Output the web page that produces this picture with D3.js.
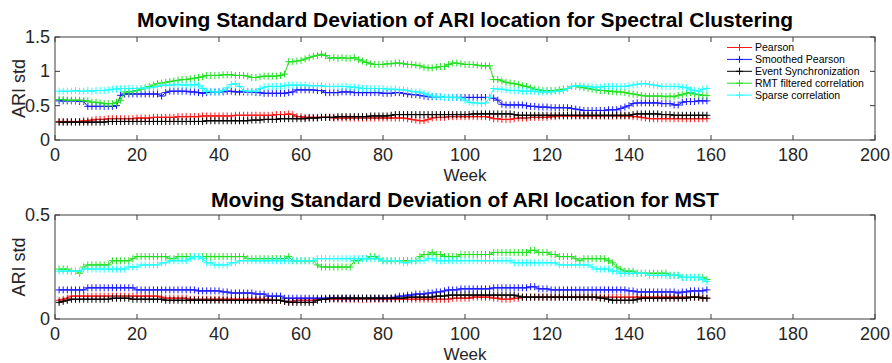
<!DOCTYPE html>
<html>
<head>
<meta charset="utf-8">
<script src="https://cdn.jsdelivr.net/npm/d3@7"></script>
<style>
html,body{margin:0;padding:0;background:#fff;}
svg{display:block;font-family:"Liberation Sans",Arial,Helvetica,sans-serif;}
</style>
</head>
<body>
<svg id="chart" width="892" height="363"></svg>
<script>
// ---------- data ----------
const weeks = d3.range(1, 160); // weeks 1..159
const seriesNames = ["Pearson", "Smoothed Pearson", "Event Synchronization", "RMT filtered correlation", "Sparse correlation"];
const seriesColors = ["#ff1a1a", "#1a1aff", "#000000", "#22e022", "#22ffff"];
const xTicks = [0, 20, 40, 60, 80, 100, 120, 140, 160, 180, 200];
const topYTicks = [0, 0.5, 1, 1.5];
const bottomYTicks = [0, 0.5];
const topTitle = "Moving Standard Deviation of ARI location for Spectral Clustering";
const bottomTitle = "Moving Standard Deviation of ARI location for MST";

// Spectral clustering panel
const scPearson = [
0.27,0.27,0.27,0.27,0.27,0.27,0.28,0.28,0.29,0.30,
0.30,0.30,0.31,0.31,0.31,0.31,0.31,0.31,0.31,0.32,
0.32,0.32,0.32,0.33,0.33,0.33,0.33,0.33,0.33,0.34,
0.34,0.34,0.34,0.34,0.34,0.35,0.35,0.35,0.35,0.35,
0.35,0.35,0.35,0.36,0.36,0.36,0.36,0.36,0.36,0.36,
0.36,0.36,0.36,0.37,0.37,0.37,0.38,0.37,0.34,0.34,
0.33,0.33,0.33,0.33,0.33,0.33,0.33,0.32,0.32,0.32,
0.32,0.32,0.32,0.32,0.32,0.32,0.32,0.32,0.32,0.32,
0.32,0.32,0.32,0.32,0.32,0.31,0.30,0.29,0.28,0.28,
0.30,0.32,0.33,0.33,0.33,0.34,0.34,0.34,0.34,0.34,
0.34,0.34,0.34,0.34,0.34,0.33,0.31,0.31,0.30,0.30,
0.30,0.31,0.32,0.32,0.32,0.33,0.33,0.33,0.33,0.33,
0.34,0.34,0.35,0.35,0.35,0.35,0.35,0.35,0.35,0.35,
0.35,0.35,0.35,0.35,0.35,0.35,0.35,0.35,0.35,0.35,
0.34,0.34,0.33,0.32,0.31,0.31,0.31,0.31,0.31,0.31,
0.31,0.31,0.31,0.31,0.31,0.31,0.31,0.31,0.31];
const scSmoothed = [
0.57,0.57,0.57,0.57,0.57,0.56,0.56,0.49,0.49,0.49,
0.49,0.49,0.49,0.49,0.50,0.65,0.67,0.67,0.67,0.67,
0.67,0.67,0.67,0.67,0.67,0.64,0.69,0.71,0.71,0.71,
0.71,0.71,0.70,0.70,0.69,0.68,0.69,0.70,0.70,0.70,
0.70,0.71,0.71,0.70,0.70,0.70,0.70,0.70,0.69,0.69,
0.68,0.68,0.68,0.68,0.68,0.68,0.69,0.70,0.73,0.73,
0.73,0.73,0.73,0.72,0.72,0.69,0.69,0.69,0.69,0.70,
0.70,0.70,0.69,0.69,0.69,0.69,0.69,0.69,0.69,0.68,
0.68,0.68,0.69,0.69,0.68,0.67,0.66,0.66,0.65,0.64,
0.63,0.63,0.63,0.63,0.62,0.62,0.62,0.62,0.62,0.62,
0.62,0.62,0.62,0.62,0.62,0.62,0.61,0.58,0.52,0.51,
0.51,0.51,0.51,0.51,0.50,0.49,0.49,0.48,0.48,0.48,
0.47,0.47,0.47,0.47,0.47,0.46,0.45,0.44,0.43,0.43,
0.43,0.43,0.43,0.43,0.44,0.44,0.44,0.46,0.48,0.50,
0.53,0.54,0.54,0.54,0.54,0.54,0.54,0.53,0.53,0.53,
0.51,0.51,0.55,0.56,0.56,0.56,0.57,0.57,0.57];
const scEvent = [
0.26,0.26,0.26,0.26,0.26,0.26,0.26,0.26,0.26,0.26,
0.26,0.26,0.27,0.27,0.27,0.27,0.27,0.27,0.27,0.27,
0.27,0.27,0.27,0.27,0.27,0.27,0.27,0.27,0.27,0.27,
0.27,0.27,0.27,0.27,0.27,0.27,0.28,0.28,0.28,0.28,
0.28,0.28,0.28,0.28,0.28,0.28,0.28,0.29,0.29,0.29,
0.30,0.30,0.30,0.30,0.31,0.31,0.31,0.31,0.31,0.31,
0.31,0.32,0.32,0.32,0.33,0.33,0.33,0.33,0.34,0.34,
0.34,0.34,0.34,0.34,0.34,0.34,0.35,0.35,0.35,0.35,
0.35,0.36,0.37,0.37,0.37,0.37,0.37,0.37,0.37,0.37,
0.37,0.37,0.37,0.37,0.37,0.37,0.37,0.37,0.37,0.37,
0.37,0.38,0.38,0.38,0.38,0.38,0.38,0.38,0.38,0.38,
0.38,0.37,0.36,0.36,0.36,0.36,0.36,0.36,0.36,0.36,
0.36,0.36,0.36,0.36,0.36,0.36,0.36,0.36,0.36,0.36,
0.36,0.36,0.36,0.36,0.36,0.36,0.36,0.36,0.36,0.36,
0.37,0.38,0.38,0.38,0.38,0.38,0.38,0.37,0.37,0.37,
0.36,0.36,0.36,0.36,0.36,0.36,0.36,0.36,0.36];
const scRMT = [
0.59,0.59,0.58,0.58,0.58,0.58,0.57,0.57,0.55,0.55,
0.54,0.53,0.53,0.53,0.55,0.58,0.70,0.70,0.71,0.72,
0.74,0.76,0.78,0.80,0.82,0.83,0.84,0.85,0.86,0.87,
0.88,0.88,0.89,0.90,0.91,0.92,0.94,0.94,0.94,0.94,
0.95,0.95,0.95,0.94,0.94,0.94,0.93,0.91,0.91,0.92,
0.93,0.93,0.93,0.93,0.94,0.96,1.14,1.14,1.15,1.16,
1.18,1.20,1.22,1.23,1.25,1.23,1.19,1.20,1.19,1.20,
1.19,1.19,1.20,1.17,1.15,1.13,1.11,1.10,1.10,1.10,
1.11,1.11,1.12,1.12,1.11,1.10,1.10,1.09,1.08,1.06,
1.05,1.05,1.06,1.07,1.07,1.10,1.12,1.12,1.11,1.10,
1.10,1.10,1.09,1.08,1.08,1.08,0.88,0.88,0.86,0.84,
0.83,0.82,0.81,0.79,0.78,0.76,0.74,0.73,0.72,0.72,
0.72,0.72,0.73,0.74,0.75,0.78,0.78,0.77,0.76,0.75,
0.74,0.73,0.72,0.72,0.71,0.71,0.70,0.70,0.69,0.68,
0.67,0.66,0.65,0.64,0.64,0.64,0.64,0.64,0.63,0.64,
0.63,0.65,0.66,0.68,0.69,0.67,0.66,0.65,0.65];
const scSparse = [
0.71,0.71,0.71,0.71,0.72,0.71,0.71,0.72,0.71,0.72,
0.72,0.72,0.73,0.74,0.74,0.75,0.75,0.75,0.75,0.75,
0.75,0.76,0.76,0.77,0.78,0.80,0.80,0.80,0.80,0.81,
0.80,0.80,0.80,0.81,0.80,0.75,0.71,0.71,0.70,0.70,
0.72,0.76,0.81,0.82,0.78,0.72,0.71,0.71,0.71,0.75,
0.77,0.78,0.78,0.78,0.78,0.79,0.80,0.80,0.80,0.80,
0.80,0.79,0.79,0.79,0.79,0.78,0.78,0.78,0.78,0.78,
0.78,0.77,0.77,0.76,0.75,0.75,0.75,0.75,0.75,0.75,
0.74,0.74,0.74,0.73,0.73,0.72,0.71,0.70,0.70,0.68,
0.66,0.64,0.63,0.63,0.62,0.62,0.62,0.62,0.61,0.58,
0.55,0.54,0.54,0.53,0.54,0.62,0.75,0.74,0.74,0.73,
0.72,0.72,0.72,0.71,0.71,0.71,0.71,0.70,0.70,0.70,
0.70,0.71,0.71,0.72,0.75,0.78,0.79,0.79,0.78,0.78,
0.77,0.77,0.77,0.78,0.78,0.78,0.78,0.78,0.78,0.79,
0.80,0.81,0.82,0.82,0.81,0.80,0.79,0.78,0.78,0.78,
0.78,0.78,0.77,0.76,0.73,0.72,0.71,0.74,0.75];

// MST panel
const mstPearson = [
0.09,0.095,0.10,0.11,0.11,0.11,0.11,0.11,0.11,0.11,
0.11,0.11,0.11,0.11,0.11,0.11,0.11,0.11,0.11,0.11,
0.11,0.11,0.11,0.11,0.11,0.105,0.10,0.10,0.10,0.10,
0.10,0.10,0.095,0.095,0.095,0.095,0.095,0.095,0.095,0.095,
0.095,0.095,0.095,0.095,0.095,0.095,0.095,0.095,0.095,0.095,
0.095,0.095,0.09,0.09,0.09,0.085,0.085,0.085,0.09,0.09,
0.09,0.09,0.09,0.095,0.095,0.095,0.095,0.095,0.095,0.095,
0.095,0.095,0.095,0.095,0.095,0.095,0.095,0.095,0.095,0.095,
0.095,0.095,0.095,0.095,0.095,0.095,0.095,0.095,0.095,0.095,
0.095,0.095,0.095,0.095,0.095,0.095,0.10,0.10,0.10,0.10,
0.10,0.105,0.105,0.105,0.105,0.105,0.10,0.10,0.095,0.095,
0.095,0.10,0.10,0.105,0.105,0.105,0.105,0.105,0.105,0.105,
0.105,0.105,0.105,0.105,0.105,0.105,0.105,0.105,0.105,0.105,
0.105,0.105,0.105,0.105,0.105,0.105,0.105,0.105,0.105,0.105,
0.105,0.105,0.105,0.105,0.105,0.105,0.105,0.105,0.105,0.105,
0.105,0.105,0.105,0.105,0.105,0.105,0.105,0.10,0.10];
const mstSmoothed = [
0.14,0.14,0.14,0.14,0.14,0.14,0.14,0.15,0.15,0.15,
0.15,0.15,0.15,0.15,0.15,0.15,0.15,0.15,0.15,0.14,
0.14,0.14,0.14,0.14,0.14,0.14,0.14,0.14,0.14,0.14,
0.14,0.14,0.14,0.14,0.135,0.135,0.135,0.135,0.135,0.135,
0.13,0.13,0.125,0.125,0.125,0.125,0.125,0.125,0.12,0.12,
0.12,0.11,0.11,0.11,0.11,0.10,0.10,0.10,0.10,0.10,
0.10,0.10,0.10,0.10,0.10,0.10,0.10,0.10,0.10,0.10,
0.10,0.10,0.10,0.10,0.10,0.10,0.10,0.10,0.10,0.10,
0.10,0.10,0.105,0.11,0.11,0.115,0.115,0.12,0.12,0.12,
0.125,0.125,0.13,0.13,0.135,0.14,0.14,0.14,0.145,0.145,
0.145,0.145,0.145,0.145,0.145,0.145,0.15,0.15,0.15,0.15,
0.15,0.15,0.15,0.15,0.15,0.155,0.155,0.145,0.145,0.145,
0.14,0.14,0.14,0.14,0.14,0.14,0.14,0.14,0.14,0.14,
0.14,0.14,0.14,0.14,0.14,0.14,0.14,0.14,0.14,0.135,
0.135,0.13,0.13,0.13,0.13,0.13,0.13,0.13,0.13,0.13,
0.13,0.125,0.13,0.13,0.135,0.135,0.135,0.135,0.14];
const mstEvent = [
0.08,0.085,0.09,0.095,0.095,0.095,0.095,0.095,0.095,0.095,
0.095,0.095,0.095,0.10,0.10,0.10,0.10,0.10,0.095,0.095,
0.095,0.095,0.095,0.095,0.095,0.095,0.09,0.09,0.09,0.09,
0.09,0.09,0.09,0.09,0.09,0.09,0.09,0.09,0.09,0.09,
0.09,0.09,0.09,0.09,0.09,0.09,0.09,0.09,0.09,0.09,
0.09,0.09,0.09,0.09,0.09,0.085,0.08,0.08,0.08,0.08,
0.08,0.08,0.08,0.09,0.095,0.095,0.10,0.10,0.10,0.10,
0.10,0.10,0.10,0.10,0.10,0.10,0.10,0.10,0.10,0.10,
0.10,0.10,0.10,0.10,0.10,0.105,0.105,0.105,0.105,0.105,
0.105,0.105,0.11,0.11,0.11,0.115,0.115,0.115,0.115,0.115,
0.115,0.115,0.115,0.115,0.115,0.115,0.115,0.115,0.115,0.115,
0.115,0.115,0.11,0.105,0.105,0.105,0.105,0.105,0.105,0.105,
0.105,0.105,0.105,0.105,0.105,0.105,0.105,0.105,0.105,0.105,
0.105,0.105,0.10,0.10,0.095,0.09,0.09,0.09,0.09,0.09,
0.09,0.095,0.10,0.10,0.10,0.10,0.10,0.10,0.10,0.10,
0.10,0.10,0.10,0.10,0.105,0.105,0.105,0.10,0.10];
const mstRMT = [
0.24,0.24,0.24,0.23,0.23,0.22,0.25,0.26,0.26,0.26,
0.26,0.26,0.26,0.28,0.28,0.28,0.28,0.28,0.29,0.30,
0.30,0.30,0.30,0.30,0.30,0.30,0.30,0.29,0.29,0.30,
0.30,0.30,0.30,0.30,0.30,0.30,0.30,0.30,0.30,0.30,
0.30,0.30,0.30,0.30,0.30,0.30,0.29,0.29,0.29,0.29,
0.29,0.29,0.29,0.29,0.29,0.29,0.30,0.28,0.28,0.28,
0.28,0.28,0.28,0.26,0.25,0.25,0.25,0.25,0.25,0.25,
0.25,0.25,0.28,0.28,0.29,0.29,0.30,0.30,0.29,0.28,
0.28,0.28,0.28,0.28,0.28,0.28,0.28,0.28,0.30,0.31,
0.31,0.32,0.31,0.31,0.30,0.30,0.30,0.30,0.31,0.31,
0.31,0.31,0.31,0.31,0.31,0.31,0.32,0.32,0.32,0.32,
0.32,0.32,0.32,0.32,0.32,0.33,0.33,0.32,0.32,0.32,
0.31,0.31,0.30,0.30,0.30,0.30,0.29,0.28,0.29,0.29,
0.29,0.29,0.29,0.29,0.28,0.27,0.25,0.24,0.23,0.23,
0.23,0.22,0.22,0.22,0.22,0.22,0.22,0.22,0.22,0.21,
0.21,0.21,0.20,0.20,0.20,0.20,0.20,0.20,0.19];
const mstSparse = [
0.23,0.23,0.23,0.23,0.23,0.23,0.24,0.24,0.24,0.24,
0.24,0.24,0.24,0.24,0.24,0.24,0.24,0.25,0.25,0.25,
0.26,0.26,0.26,0.26,0.26,0.27,0.27,0.28,0.28,0.28,
0.28,0.28,0.29,0.30,0.30,0.29,0.27,0.27,0.26,0.26,
0.26,0.26,0.27,0.27,0.28,0.28,0.28,0.28,0.28,0.28,
0.28,0.28,0.28,0.28,0.28,0.28,0.28,0.28,0.28,0.28,
0.28,0.28,0.28,0.29,0.29,0.29,0.29,0.29,0.29,0.29,
0.29,0.29,0.29,0.29,0.29,0.29,0.29,0.29,0.29,0.28,
0.28,0.28,0.28,0.28,0.27,0.27,0.28,0.28,0.28,0.28,
0.29,0.29,0.28,0.28,0.28,0.28,0.28,0.28,0.28,0.28,
0.28,0.28,0.28,0.28,0.28,0.28,0.28,0.28,0.28,0.28,
0.28,0.27,0.27,0.27,0.27,0.27,0.27,0.27,0.27,0.27,
0.27,0.27,0.26,0.26,0.26,0.26,0.26,0.26,0.26,0.26,
0.25,0.24,0.24,0.24,0.24,0.23,0.23,0.22,0.22,0.22,
0.22,0.22,0.22,0.22,0.21,0.21,0.21,0.21,0.21,0.21,
0.21,0.21,0.20,0.20,0.20,0.20,0.20,0.19,0.18];

// ---------- drawing ----------
const svg = d3.select("#chart");
const axisColor = "#3c3c3c";
const tickLen = 5;

function drawPanel(cfg) {
  const x = d3.scaleLinear().domain([0, 200]).range([55, 875]);
  const y = d3.scaleLinear().domain(cfg.yDomain).range([cfg.bottom, cfg.top]);
  const g = svg.append("g");

  // data
  const line = d3.line().x((d, i) => x(weeks[i])).y(d => y(d));
  cfg.series.forEach((vals, si) => {
    const sg = g.append("g");
    sg.append("path").attr("d", line(vals)).attr("fill", "none")
      .attr("stroke", seriesColors[si]).attr("stroke-width", 1);
    sg.selectAll("path.m").data(vals).enter().append("path").attr("class", "m")
      .attr("transform", (d, i) => `translate(${x(weeks[i])},${y(d)})`)
      .attr("d", "M-3.5,0H3.5M0,-3.5V3.5")
      .attr("stroke", seriesColors[si]).attr("stroke-width", 1).attr("fill", "none");
  });

  // box
  g.append("rect").attr("x", x(0)).attr("y", cfg.top)
    .attr("width", x(200) - x(0)).attr("height", cfg.bottom - cfg.top)
    .attr("fill", "none").attr("stroke", axisColor).attr("stroke-width", 1);

  // x ticks (bottom and top, inward)
  xTicks.forEach(t => {
    g.append("line").attr("x1", x(t)).attr("x2", x(t)).attr("y1", cfg.bottom).attr("y2", cfg.bottom - tickLen)
      .attr("stroke", axisColor);
    g.append("line").attr("x1", x(t)).attr("x2", x(t)).attr("y1", cfg.top).attr("y2", cfg.top + tickLen)
      .attr("stroke", axisColor);
    g.append("text").attr("x", x(t)).attr("y", cfg.bottom + 21).attr("text-anchor", "middle")
      .attr("font-size", 18).attr("fill", "#262626").text(t);
  });
  // y ticks (left and right, inward)
  cfg.yTicks.forEach(t => {
    g.append("line").attr("x1", x(0)).attr("x2", x(0) + tickLen).attr("y1", y(t)).attr("y2", y(t))
      .attr("stroke", axisColor);
    g.append("line").attr("x1", x(200)).attr("x2", x(200) - tickLen).attr("y1", y(t)).attr("y2", y(t))
      .attr("stroke", axisColor);
    g.append("text").attr("x", x(0) - 5).attr("y", y(t) + 6).attr("text-anchor", "end")
      .attr("font-size", 18).attr("fill", "#262626").text(t);
  });

  // title
  g.append("text").attr("x", (x(0) + x(200)) / 2).attr("y", cfg.titleY).attr("text-anchor", "middle")
    .attr("font-size", 21).attr("font-weight", "bold").attr("fill", "#000").text(cfg.title);
  // x label
  g.append("text").attr("x", (x(0) + x(200)) / 2).attr("y", cfg.bottom + 41).attr("text-anchor", "middle")
    .attr("font-size", 17).attr("fill", "#262626").text("Week");
  // y label
  const cy = (cfg.top + cfg.bottom) / 2;
  g.append("text").attr("transform", `translate(25,${cy}) rotate(-90)`).attr("text-anchor", "middle")
    .attr("font-size", 18).attr("fill", "#262626").text("ARI std");

  // legend
  if (cfg.legend) {
    const lg = g.append("g");
    seriesNames.forEach((name, i) => {
      const ly = 47.5 + i * 11.9;
      lg.append("line").attr("x1", 727).attr("x2", 752).attr("y1", ly).attr("y2", ly)
        .attr("stroke", seriesColors[i]).attr("stroke-width", 1);
      lg.append("path").attr("transform", `translate(739.5,${ly})`).attr("d", "M-3.5,0H3.5M0,-3.5V3.5")
        .attr("stroke", seriesColors[i]).attr("stroke-width", 1);
      lg.append("text").attr("x", 755).attr("y", ly + 3.8).attr("font-size", 10.5)
        .attr("fill", "#000").text(name);
    });
  }
}

drawPanel({
  top: 37, bottom: 140, titleY: 27, yDomain: [0, 1.5], yTicks: topYTicks, title: topTitle, legend: true,
  series: [scPearson, scSmoothed, scEvent, scRMT, scSparse]
});
drawPanel({
  top: 215, bottom: 319, titleY: 207, yDomain: [0, 0.5], yTicks: bottomYTicks, title: bottomTitle, legend: false,
  series: [mstPearson, mstSmoothed, mstEvent, mstRMT, mstSparse]
});
</script>
</body>
</html>
